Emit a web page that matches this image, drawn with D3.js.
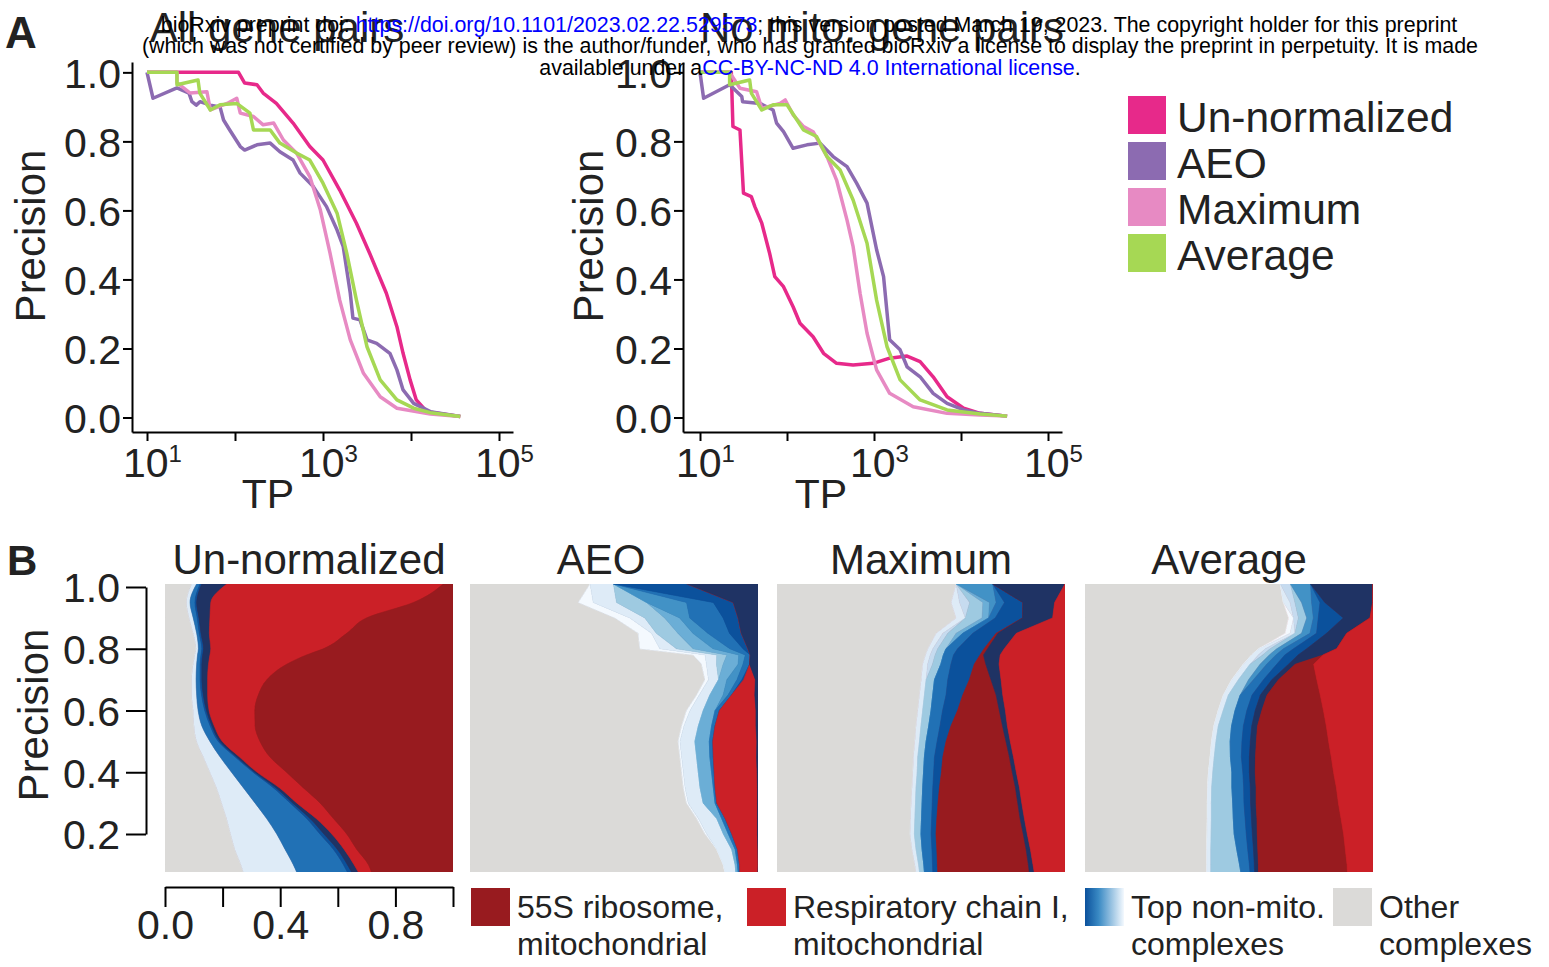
<!DOCTYPE html>
<html>
<head>
<meta charset="utf-8">
<title>Precision curves and complex composition</title>
<script src="https://cdnjs.cloudflare.com/ajax/libs/d3/7.8.5/d3.min.js"></script>
<style>
  body { margin: 0; background: #fff; }
  svg { display: block; font-family: "Liberation Sans", Arial, Helvetica, sans-serif; }
  .axis path, .axis line { stroke: #000; stroke-width: 2; }
  .axis text { font-size: 41px; fill: #222; }
</style>
</head>
<body>
<svg id="fig" width="1549" height="967"></svg>
<script>
// ---------- panel A data: [TP, precision] ----------
var methods = ["Un-normalized", "AEO", "Maximum", "Average"];
var methodColors = ["#e7298a", "#8c6bb1", "#e78ac3", "#a6d854"];
var tpTicks = [10, 100, 1000, 10000, 100000];
var tpLabels = [[10, "1"], [1000, "3"], [100000, "5"]];
var precTicks = [0, 0.2, 0.4, 0.6, 0.8, 1.0];

var allUnnorm = [[10,1],[109.6,1],[128.8,0.969],[177.8,0.964],[208.9,0.94],[295.1,0.91],[457,0.853],[707.9,0.785],[1000,0.746],[1548.8,0.659],[2398.8,0.563],[3388.4,0.476],[5248,0.36],[6918.3,0.263],[8128.3,0.186],[9772.4,0.109],[11482,0.051],[15136,0.017],[36308,0.003]];
var allAEO = [[10,1],[11.7,0.925],[21.9,0.955],[30,0.94],[32.4,0.915],[36.3,0.905],[40,0.915],[52.5,0.905],[67.6,0.9],[74.1,0.862],[87.1,0.833],[114.8,0.785],[128.8,0.775],[177.8,0.79],[251.2,0.795],[323.6,0.77],[457,0.746],[549.5,0.708],[776.2,0.669],[1096.5,0.611],[1445.4,0.543],[1698.2,0.495],[2041.7,0.36],[2187.8,0.288],[2630.3,0.283],[3162.3,0.225],[4073.8,0.215],[5754.4,0.186],[6918.3,0.138],[8128.3,0.08],[10715,0.041],[16596,0.017],[36308,0.003]];
var allMax = [[10,1],[21.9,1],[21.9,0.97],[30.9,0.94],[47.9,0.944],[52.5,0.891],[81.3,0.91],[104.7,0.925],[114.8,0.882],[162.2,0.872],[208.9,0.848],[275.4,0.853],[354.8,0.804],[501,0.766],[707.9,0.698],[933.3,0.601],[1202.3,0.476],[1548.8,0.34],[2041.7,0.225],[2884,0.128],[4466.8,0.06],[6918.3,0.027],[16596,0.01],[36308,0.003]];
var allAvg = [[10,1],[21.9,1],[21.9,0.964],[38,0.978],[39.8,0.94],[52.5,0.891],[67.6,0.906],[104.7,0.91],[147.9,0.882],[162.2,0.833],[251.2,0.833],[323.6,0.795],[501,0.766],[707.9,0.746],[1000,0.679],[1445.4,0.592],[1862.1,0.476],[2398.8,0.34],[3162.3,0.205],[4466.8,0.109],[6918.3,0.051],[10715,0.027],[16596,0.014],[36308,0.003]];

var noMitoUnnorm = [[10,1],[22.9,1],[23.9,0.843],[28.8,0.833],[31.6,0.65],[38.9,0.64],[42.7,0.611],[51.3,0.563],[63.1,0.476],[72.4,0.408],[91.2,0.379],[117.5,0.321],[141,0.273],[199.5,0.234],[263,0.186],[371.5,0.157],[575.4,0.152],[977.2,0.157],[1513.6,0.172],[2398.8,0.178],[3388.4,0.162],[4786.3,0.118],[6918.3,0.06],[10715,0.027],[16596,0.012],[33884,0.004]];
var noMitoAEO = [[10,1],[11,0.925],[21.9,0.964],[30.2,0.93],[30.9,0.915],[49,0.91],[69.2,0.891],[75.9,0.853],[91.2,0.828],[117.5,0.78],[169.8,0.79],[239.9,0.795],[338.8,0.756],[489.8,0.727],[631,0.679],[831.8,0.621],[1071.5,0.486],[1288.2,0.408],[1513.6,0.225],[1995.3,0.196],[2398.8,0.147],[3388.4,0.118],[4786.3,0.07],[6918.3,0.041],[10715,0.022],[16596,0.012],[33884,0.004]];
var noMitoMax = [[10,1],[21.9,1],[28.8,0.954],[44.7,0.944],[51.3,0.896],[83.2,0.91],[95.5,0.92],[117.5,0.877],[154.9,0.843],[199.5,0.828],[288.4,0.756],[371.5,0.688],[489.8,0.572],[575.4,0.495],[691.8,0.36],[831.8,0.244],[1071.5,0.138],[1513.6,0.07],[2818.4,0.031],[6918.3,0.012],[16596,0.007],[33884,0.004]];
var noMitoAvg = [[10,1],[21.9,1],[21.9,0.964],[37.2,0.978],[38.9,0.94],[51.3,0.891],[69.2,0.906],[100,0.906],[154.9,0.833],[218.8,0.814],[288.4,0.756],[407.4,0.717],[575.4,0.63],[831.8,0.505],[1071.5,0.34],[1412.5,0.205],[1995.3,0.109],[3388.4,0.051],[6918.3,0.022],[16596,0.01],[33884,0.004]];

// ---------- panel B data: % of TPs per complex group at each precision level ----------
var levels = [1.01,0.95,0.9,0.85,0.8,0.78,0.75,0.7,0.65,0.6,0.55,0.5,0.45,0.4,0.35,0.3,0.25,0.2,0.15,0.1,0.077];
var groupColors = {
  other: "#dbdad8", b1: "#f4f9fe", b2: "#deebf7", b3: "#c6dbef", b4: "#9ecae1",
  b5: "#6baed6", b6: "#4292c6", b7: "#2171b5", b8: "#0b519c", navy: "#1f3364",
  red: "#cb2027", darkred: "#981b1f"
};
var z = [0,0,0,0,0,0,0,0,0,0,0,0,0,0,0,0,0,0,0,0,0];

var unnormOrder = ["other","b2","b7","b8","navy","red","darkred"];
var unnormFrac = {
  other:   [9.3,7.5,8.4,9.8,10.8,10.4,9.8,9.3,9.3,9.8,10.1,11.0,13.3,15.6,17.9,19.7,21.4,22.8,24.3,26.4,27.2],
  b2:      [1.7,1.2,1.4,1.2,0.8,0.9,1.2,1.5,1.7,1.7,2.7,4.6,5.8,7.5,9.3,11.6,13.9,16.0,17.4,18.2,18.5],
  b7:      [1.2,1.7,1.4,0.9,1.2,1.2,1.2,1.4,1.7,2.3,2.9,2.9,5.2,7.5,10.4,12.2,13.9,15.0,16.8,17.4,17.6],
  b8:      [0.6,0.6,0.6,0.6,0.6,0.6,0.6,0.6,0.6,0.6,0.6,0.6,0.6,0.6,0.9,0.9,1.2,1.4,1.4,1.4,1.5],
  navy:    [8.7,4.9,3.8,2.9,2.5,2.5,2.3,2.0,1.5,0.9,0.8,0.8,0.9,0.8,1.2,1.4,2.1,2.7,2.3,2.3,2.3],
  red:     [75.2,70.4,54.4,47.7,39.1,33.6,27.2,20.6,17.6,15.9,14.2,13.1,10.6,10.2,8.3,8.1,6.0,5.2,4.4,5.0,4.6],
  darkred: [3.3,13.7,30.0,36.9,45.0,50.8,57.7,64.6,67.6,68.8,68.7,67.0,63.6,57.8,52.0,46.1,41.5,36.9,33.4,29.3,28.3]
};

var aeoOrder = ["other","b1","b2","b4","b5","b6","b7","b8","red","navy"];
var aeoFrac = {
  other: [41.7,37.6,50.3,58.4,59.0,77.5,80.4,81.6,78.7,75.2,73.5,72.3,72.9,73.5,74.1,75.2,78.7,81.6,85.7,88.0,88.5],
  b1:    [0,5.2,5.2,4.6,6.9,4.1,1.7,1.2,0.9,1.2,0.8,0.6,0.6,0.6,0.6,0.6,0.6,0.6,0,0,0],
  b2:    [8.1,8.1,5.2,1.7,5.8,4.1,3.5,3.5,3.7,4.6,5.0,5.2,5.2,5.2,5.2,5.2,6.4,5.8,5.2,4.1,3.8],
  b4:    [0,10.4,6.9,7.5,5.8,3.5,2.3,0,0,0,0,0,0,0,0,0,0,0,0,0,0],
  b5:    [0,0,5.2,5.2,6.9,4.1,5.2,2.9,4.6,4.1,4.6,5.0,4.6,4.6,4.6,4.1,1.7,1.7,1.2,0.8,0.8],
  b6:    [0,13.9,3.5,5.2,5.8,2.3,1.7,3.5,1.7,0,0,0,0,0,0,0,0,0,0,0,0],
  b7:    [0,9.3,11.6,7.5,4.6,1.7,2.3,1.7,1.2,1.5,1.2,1.2,1.2,0.9,0.6,0.6,1.2,1.2,0.8,0.7,0.6],
  b8:    [25.5,6.9,5.2,4.1,1.7,0,0,0.6,0,0,0,0,0,0,0,0,0,0,0,0,0],
  red:   [0,0,0,0,0,0,0,4.1,8.1,12.7,14.2,15.3,15.0,14.9,14.7,14.1,11.2,8.9,7.1,6.5,6.3],
  navy:  [24.8,8.6,6.8,5.7,3.4,2.8,2.8,1.0,1.0,0.7,0.7,0.5,0.5,0.3,0.3,0.3,0.3,0.3,0,0,0]
};

var maxOrder = ["other","b2","b3","b4","b5","b6","b7","b8","darkred","navy","red"];
var maxFrac = {
  other:   [62.2,60.5,62.2,55.3,52.4,51.6,50.6,50.1,49.5,48.9,48.3,47.9,47.4,47.2,46.9,46.6,46.4,46.2,46.9,47.9,48.3],
  b2:      [0,2.9,3.2,2.3,1.7,1.6,1.7,1.7,1.7,1.7,1.7,1.6,1.5,1.5,1.4,1.5,1.5,1.5,1.4,1.3,1.2],
  b3:      [0,3.5,0,1.7,1.7,1.7,1.7,0,0,0,0,0,0,0,0,0,0,0,0,0,0],
  b4:      [0,4.6,5.8,2.9,2.9,2.9,2.9,2.9,2.9,2.9,2.7,2.3,2.3,2.2,2.3,2.3,2.3,2.3,2.1,1.8,1.7],
  b5:      [0,2.3,2.3,2.3,0,0,0,0,0,0,0,0,0,0,0,0,0,0,0,0,0],
  b6:      [12.7,2.3,0,0,0,0,0,0,0,0,0,0,0,0,0,0,0,0,0,0,0],
  b7:      [0,2.9,2.3,3.5,4.0,3.5,3.5,4.6,4.6,4.0,3.9,3.8,3.5,3.5,3.5,3.5,3.5,3.5,3.4,3.0,2.9],
  b8:      [0,6.4,9.5,8.1,9.2,9.2,8.1,7.5,5.8,5.2,3.8,3.1,2.9,2.7,2.3,2.0,1.8,1.7,1.7,1.7,1.7],
  darkred: [0,0,0,0.6,1.2,1.2,4.0,7.5,11.6,14.5,17.9,20.8,23.1,24.6,26.4,27.7,28.9,30.3,31.0,31.6,31.8],
  navy:    [25.1,11.0,10.4,6.4,5.8,5.8,4.6,3.5,2.3,2.1,1.7,1.5,1.4,1.4,1.4,1.4,1.5,1.4,1.5,1.6,1.7],
  red:     [0,3.7,4.3,17.0,21.0,22.5,22.8,22.2,21.6,20.7,19.9,19.0,17.9,17.0,15.8,15.0,14.1,13.1,12.0,11.1,10.6]
};

var avgOrder = ["other","b1","b2","b3","b4","b6","b7","b8","navy","darkred","red"];
var avgFrac = {
  other:   [67.8,68.9,70.7,69.5,60.3,57.9,55.0,51.0,48.1,46.3,44.8,44.0,43.5,42.9,42.6,42.5,42.5,42.4,42.3,42.3,42.3],
  b1:      [0,0,1.7,1.7,0,0,0,0,0,0,0,0,0,0,0,0,0,0,0,0,0],
  b2:      [0,2.3,0,1.7,2.3,2.3,2.3,2.3,1.7,1.7,1.5,1.5,1.4,1.5,1.4,1.4,1.4,1.4,1.4,1.4,1.4],
  b3:      [3.5,1.7,1.7,0,1.7,1.5,0,0,0,0,0,0,0,0,0,0,0,0,0,0,0],
  b4:      [0,2.3,2.9,2.3,2.3,2.3,3.5,3.5,4.1,4.1,4.6,4.9,5.6,6.6,7.0,7.4,7.6,8.0,9.0,10.0,10.4],
  b6:      [7.0,3.5,2.3,2.9,2.3,2.3,2.3,1.7,0,0,0,0,0,0,0,0,0,0,0,0,0],
  b7:      [0,2.9,1.7,2.3,3.5,3.1,3.5,3.5,4.1,4.1,4.1,4.1,3.8,3.8,4.1,3.9,4.1,4.2,3.8,3.4,3.2],
  b8:      [0,1.7,8.7,3.5,4.6,4.6,4.1,2.9,2.9,2.9,2.9,2.9,2.8,2.3,2.3,2.3,2.2,2.1,2.0,1.7,1.6],
  navy:    [21.7,16.6,9.3,7.0,10.4,8.7,2.3,2.3,2.3,2.3,2.0,2.1,2.1,2.0,2.0,1.9,1.9,1.7,1.5,1.4,1.3],
  darkred: [0,0,0,0,0,0,6.4,13.3,18.5,21.4,23.9,25.1,26.3,27.2,27.9,28.6,29.2,30.0,30.4,30.8,30.9],
  red:     [0,0,0.9,9.0,12.5,17.3,20.6,19.5,18.3,17.1,16.2,15.4,14.6,13.7,12.7,11.9,11.1,10.2,9.6,9.0,8.8]
};

var fracTicks = [0, 0.2, 0.4, 0.6, 0.8, 1.0];
var legendB = [
  {fill: "#981b1f", lines: ["55S ribosome,", "mitochondrial"]},
  {fill: "#cb2027", lines: ["Respiratory chain I,", "mitochondrial"]},
  {fill: "url(#blueGrad)", lines: ["Top non-mito.", "complexes"]},
  {fill: "#dbdad8", lines: ["Other", "complexes"]}
];

// ---------- drawing ----------
var svg = d3.select("#fig");
svg.append("rect").attr("width", 1549).attr("height", 967).attr("fill", "#fff");

// ax: left = x of y axis, t10 = x of the 10^1 tick, dec = px per decade, right = end of x axis
function precisionPanel(data, ax, titleText, titleX, labelX) {
  var x = d3.scaleLog()
    .domain([Math.pow(10, 1 + (ax.left - ax.t10) / ax.dec), Math.pow(10, 1 + (ax.right - ax.t10) / ax.dec)])
    .range([ax.left, ax.right]);
  var y = d3.scaleLinear().domain([-0.042, 1.03]).range([432, 62]);

  var g = svg.append("g");
  var line = d3.line().x(function(d){ return x(d[0]); }).y(function(d){ return y(d[1]); });
  data.forEach(function(s, i) {
    g.append("path").attr("d", line(s)).attr("fill", "none")
      .attr("stroke", methodColors[i]).attr("stroke-width", 3.5).attr("stroke-linejoin", "round");
  });

  var yAx = g.append("g").attr("class", "axis").attr("transform", "translate(" + ax.left + ",0)")
    .call(d3.axisLeft(y).tickValues(precTicks).tickSize(9).tickSizeOuter(0).tickPadding(2).tickFormat(d3.format(".1f")));
  yAx.selectAll("text").attr("dy", "0.36em");

  g.append("g").attr("class", "axis").attr("transform", "translate(0,432)")
    .call(d3.axisBottom(x).tickValues(tpTicks).tickSize(9).tickSizeOuter(0).tickFormat(""));
  tpLabels.forEach(function(t) {
    var tx = g.append("text").attr("x", x(t[0]) - 24).attr("y", 477)
      .attr("font-size", 41).attr("fill", "#222").text("10");
    tx.append("tspan").attr("font-size", 24).attr("dy", -15).text(t[1]);
  });
  g.append("text").attr("x", x(10) + 121).attr("y", 508).attr("text-anchor", "middle")
    .attr("font-size", 41).attr("fill", "#222").text("TP");
  g.append("text").attr("transform", "translate(" + labelX + ",236) rotate(-90)")
    .attr("text-anchor", "middle").attr("font-size", 42).attr("fill", "#222").text("Precision");
  g.append("text").attr("x", titleX).attr("y", 42).attr("text-anchor", "middle")
    .attr("font-size", 42).attr("fill", "#222").text(titleText);
}

precisionPanel([allUnnorm, allAEO, allMax, allAvg], {left: 132, t10: 147, dec: 88, right: 513}, "All gene pairs", 277, 45);
precisionPanel([noMitoUnnorm, noMitoAEO, noMitoMax, noMitoAvg], {left: 683, t10: 700, dec: 87, right: 1062}, "No mito. gene pairs", 882, 603);

// legend A
methods.forEach(function(m, i) {
  svg.append("rect").attr("x", 1128).attr("y", 96 + i * 46).attr("width", 38).attr("height", 38).attr("fill", methodColors[i]);
  svg.append("text").attr("x", 1177).attr("y", 132 + i * 46).attr("font-size", 42.5).attr("fill", "#222").text(m);
});

// panel B
var defs = svg.append("defs");
var grad = defs.append("linearGradient").attr("id", "blueGrad").attr("x1", "0%").attr("x2", "100%");
grad.append("stop").attr("offset", "0%").attr("stop-color", "#0b519c");
grad.append("stop").attr("offset", "35%").attr("stop-color", "#3a8ac4");
grad.append("stop").attr("offset", "100%").attr("stop-color", "#f4f9fe");

var yB = d3.scaleLinear().domain([0, 1]).range([895.75, 587]);
var panelW = 288;
var panelsB = [
  {x0: 165, title: "Un-normalized", tx: 309, order: unnormOrder, frac: unnormFrac, curve: d3.curveMonotoneY},
  {x0: 470, title: "AEO", tx: 601, order: aeoOrder, frac: aeoFrac, curve: d3.curveLinear},
  {x0: 777, title: "Maximum", tx: 921, order: maxOrder, frac: maxFrac, curve: d3.curveLinear},
  {x0: 1085, title: "Average", tx: 1229, order: avgOrder, frac: avgFrac, curve: d3.curveLinear}
];

panelsB.forEach(function(pb, k) {
  var xs = d3.scaleLinear().domain([0, 100]).range([pb.x0, pb.x0 + panelW]);
  var rows = levels.map(function(p, i) {
    var r = {p: p};
    pb.order.forEach(function(key) { r[key] = (pb.frac[key] || z)[i]; });
    return r;
  });
  var series = d3.stack().keys(pb.order)(rows);
  defs.append("clipPath").attr("id", "clipB" + k).append("rect")
    .attr("x", pb.x0).attr("y", yB(1.01)).attr("width", panelW).attr("height", yB(0.077) - yB(1.01));
  var area = d3.area().curve(pb.curve)
    .y(function(d){ return yB(d.data.p); })
    .x0(function(d){ return xs(d[0]); })
    .x1(function(d){ return xs(d[1]); });
  var g = svg.append("g").attr("clip-path", "url(#clipB" + k + ")");
  g.append("rect").attr("x", pb.x0).attr("y", yB(1.01)).attr("width", panelW).attr("height", yB(0.077) - yB(1.01))
    .attr("fill", groupColors[pb.order[pb.order.length - 1]]);
  g.selectAll("path").data(series).enter().append("path")
    .attr("d", area)
    .attr("fill", function(s){ return groupColors[s.key]; })
    .attr("stroke", function(s){ return groupColors[s.key]; })
    .attr("stroke-width", 0.6);
  svg.append("text").attr("x", pb.tx).attr("y", 574).attr("text-anchor", "middle")
    .attr("font-size", 42).attr("fill", "#222").text(pb.title);
});

// panel B axes
var yBax = d3.scaleLinear().domain([0.2, 1]).range([yB(0.2), yB(1)]);
var yBa = svg.append("g").attr("class", "axis").attr("transform", "translate(146,0)")
  .call(d3.axisLeft(yBax).tickValues([0.2, 0.4, 0.6, 0.8, 1.0]).tickSize(20).tickSizeOuter(0).tickPadding(6).tickFormat(d3.format(".1f")));
yBa.selectAll("text").attr("dy", "0.36em");
svg.append("text").attr("transform", "translate(48,715) rotate(-90)")
  .attr("text-anchor", "middle").attr("font-size", 42).attr("fill", "#222").text("Precision");

var xB = d3.scaleLinear().domain([0, 1]).range([165, 165 + panelW]);
svg.append("g").attr("class", "axis").attr("transform", "translate(0,887)")
  .call(d3.axisBottom(xB).tickValues(fracTicks).tickSize(20).tickSizeOuter(0).tickPadding(3)
    .tickFormat(function(d){ return (d === 0 || d === 0.4 || d === 0.8) ? d.toFixed(1) : ""; }));

// legend B
var legX = [471, 747, 1085, 1333];
legendB.forEach(function(l, i) {
  svg.append("rect").attr("x", legX[i]).attr("y", 888).attr("width", 39).attr("height", 38).attr("fill", l.fill);
  l.lines.forEach(function(t, j) {
    svg.append("text").attr("x", legX[i] + 46).attr("y", 918 + j * 37)
      .attr("font-size", 32).attr("fill", "#222").text(t);
  });
});

// panel letters
svg.append("text").attr("x", 5).attr("y", 48).attr("font-size", 44).attr("font-weight", "bold").attr("fill", "#222").text("A");
svg.append("text").attr("x", 7).attr("y", 575).attr("font-size", 42).attr("font-weight", "bold").attr("fill", "#222").text("B");

// bioRxiv header overlay
var hdr = svg.append("g").attr("font-size", 21.4).attr("text-anchor", "middle").attr("fill", "#000");
var l1 = hdr.append("text").attr("x", 809).attr("y", 32);
l1.append("tspan").text("bioRxiv preprint doi: ");
l1.append("tspan").attr("fill", "#0000ff").text("https://doi.org/10.1101/2023.02.22.529573");
l1.append("tspan").text("; this version posted March 19, 2023. The copyright holder for this preprint");
hdr.append("text").attr("x", 810).attr("y", 53)
  .text("(which was not certified by peer review) is the author/funder, who has granted bioRxiv a license to display the preprint in perpetuity. It is made");
var l3 = hdr.append("text").attr("x", 810).attr("y", 75);
l3.append("tspan").text("available under a");
l3.append("tspan").attr("fill", "#0000ff").text("CC-BY-NC-ND 4.0 International license");
l3.append("tspan").text(".");
</script>
</body>
</html>
